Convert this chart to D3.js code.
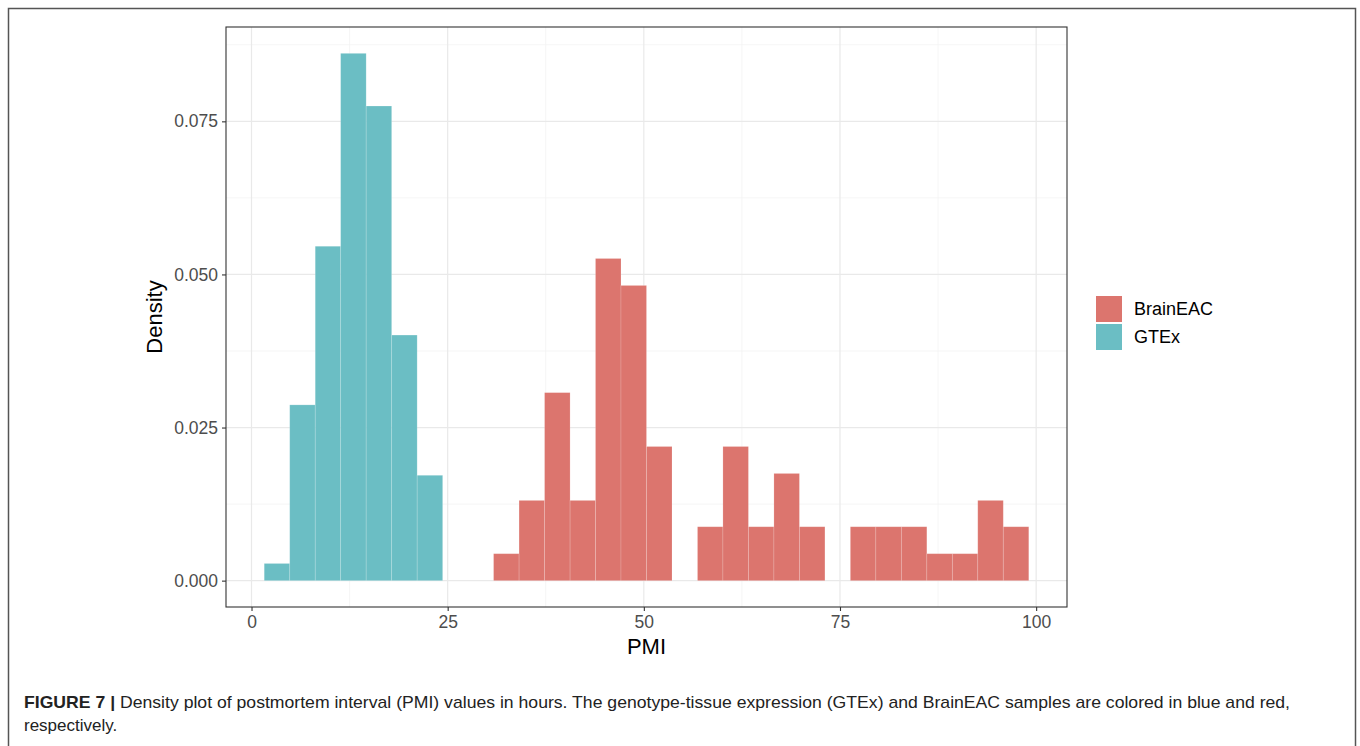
<!DOCTYPE html>
<html>
<head>
<meta charset="utf-8">
<script src="https://cdn.jsdelivr.net/npm/d3@7"></script>
<style>
  body { margin: 0; background: #fff; }
  svg { display: block; font-family: "Liberation Sans", Arial, sans-serif; }
</style>
</head>
<body>
<div class="chart"></div>
<script>
var svgWidth = 1360;
var svgHeight = 746;

// panel box (ggplot style)
var panel = { left: 226, top: 27, right: 1067, bottom: 607 };

// histogram bin edges (PMI, hours) - 30 bins shared by both groups
var binEdges = [1.62, 4.87, 8.12, 11.36, 14.61, 17.86, 21.11, 24.36, 27.60, 30.85,
  34.10, 37.35, 40.60, 43.84, 47.09, 50.34, 53.59, 56.84, 60.08, 63.33,
  66.58, 69.83, 73.08, 76.32, 79.57, 82.82, 86.07, 89.32, 92.56, 95.81, 99.06];

// density per bin
var gtexDensity = [0.0028, 0.0287, 0.0546, 0.0861, 0.0775, 0.0401, 0.0172, 0, 0, 0,
  0, 0, 0, 0, 0, 0, 0, 0, 0, 0,
  0, 0, 0, 0, 0, 0, 0, 0, 0, 0];
var brainDensity = [0, 0, 0, 0, 0, 0, 0, 0, 0, 0.0044,
  0.0131, 0.0307, 0.0131, 0.0526, 0.0482, 0.0219, 0, 0.0088, 0.0219, 0.0088,
  0.0175, 0.0088, 0, 0.0088, 0.0088, 0.0088, 0.0044, 0.0044, 0.0131, 0.0088];

var groups = ["BrainEAC", "GTEx"];
var groupColors = ["#dc756e", "#6bbec4"];

var xTicks = [0, 25, 50, 75, 100];
var xMinorTicks = [12.5, 37.5, 62.5, 87.5];
var yTicks = [0, 0.025, 0.05, 0.075];
var yMinorTicks = [0.0125, 0.0375, 0.0625, 0.0875];

var captionBold = "FIGURE 7 |";
var captionLine1 = " Density plot of postmortem interval (PMI) values in hours. The genotype-tissue expression (GTEx) and BrainEAC samples are colored in blue and red,";
var captionLine2 = "respectively.";

var svg = d3
  .select(".chart")
  .append("svg")
  .attr("width", svgWidth)
  .attr("height", svgHeight);

// outer figure frame (bottom edge runs off the page)
svg.append("rect")
  .attr("x", 8.5)
  .attr("y", 8.5)
  .attr("width", 1347)
  .attr("height", 800)
  .attr("fill", "none")
  .attr("stroke", "#555")
  .attr("stroke-width", 1.5);

// build bar records
var bars = [];
brainDensity.forEach(function(d, i) {
  if (d > 0) bars.push({ group: "BrainEAC", x0: binEdges[i], x1: binEdges[i + 1], y: d });
});
gtexDensity.forEach(function(d, i) {
  if (d > 0) bars.push({ group: "GTEx", x0: binEdges[i], x1: binEdges[i + 1], y: d });
});

// scales with ggplot's 5% expansion
var xMin = binEdges[0], xMax = binEdges[binEdges.length - 1];
var xPad = (xMax - xMin) * 0.05;
var xScale = d3.scaleLinear()
  .domain([xMin - xPad, xMax + xPad])
  .range([panel.left, panel.right]);

var yMax = d3.max(bars, d => d.y);
var yScale = d3.scaleLinear()
  .domain([-yMax * 0.05, yMax * 1.05])
  .range([panel.bottom, panel.top]);

var color = d3.scaleOrdinal().domain(groups).range(groupColors);

// grid lines
var grid = svg.append("g");
grid.selectAll(".xminor").data(xMinorTicks).enter().append("line")
  .attr("x1", d => xScale(d)).attr("x2", d => xScale(d))
  .attr("y1", panel.top).attr("y2", panel.bottom)
  .attr("stroke", "#f2f2f2").attr("stroke-width", 0.8);
grid.selectAll(".yminor").data(yMinorTicks).enter().append("line")
  .attr("y1", d => yScale(d)).attr("y2", d => yScale(d))
  .attr("x1", panel.left).attr("x2", panel.right)
  .attr("stroke", "#f2f2f2").attr("stroke-width", 0.8);
grid.selectAll(".xmajor").data(xTicks).enter().append("line")
  .attr("x1", d => xScale(d)).attr("x2", d => xScale(d))
  .attr("y1", panel.top).attr("y2", panel.bottom)
  .attr("stroke", "#e9e9e9").attr("stroke-width", 1.2);
grid.selectAll(".ymajor").data(yTicks).enter().append("line")
  .attr("y1", d => yScale(d)).attr("y2", d => yScale(d))
  .attr("x1", panel.left).attr("x2", panel.right)
  .attr("stroke", "#e9e9e9").attr("stroke-width", 1.2);

// histogram bars
svg.append("g")
  .selectAll("rect")
  .data(bars)
  .enter()
  .append("rect")
  .attr("x", d => xScale(d.x0))
  .attr("y", d => yScale(d.y))
  .attr("width", d => xScale(d.x1) - xScale(d.x0))
  .attr("height", d => yScale(0) - yScale(d.y))
  .attr("fill", d => color(d.group))
  .attr("stroke", "#ffffff")
  .attr("stroke-opacity", 0.2)
  .attr("stroke-width", 0.8);

// panel border
svg.append("rect")
  .attr("x", panel.left)
  .attr("y", panel.top)
  .attr("width", panel.right - panel.left)
  .attr("height", panel.bottom - panel.top)
  .attr("fill", "none")
  .attr("stroke", "#333")
  .attr("stroke-width", 1.1);

// axes
var bottomAxis = d3.axisBottom(xScale).tickValues(xTicks).tickSize(4).tickPadding(5);
var leftAxis = d3.axisLeft(yScale).tickValues(yTicks).tickSize(4).tickPadding(4)
  .tickFormat(d3.format(".3f"));

var xAxis = svg.append("g")
  .attr("transform", `translate(0, ${panel.bottom})`)
  .call(bottomAxis);
var yAxis = svg.append("g")
  .attr("transform", `translate(${panel.left}, 0)`)
  .call(leftAxis);

[xAxis, yAxis].forEach(function(ax) {
  ax.select(".domain").remove();
  ax.selectAll(".tick line").attr("stroke", "#333").attr("stroke-width", 1.1);
  ax.selectAll(".tick text")
    .attr("fill", "#4d4d4d")
    .style("font-size", "17.5px")
    .style("font-family", "Liberation Sans, Arial, sans-serif");
});

// axis titles
svg.append("text")
  .attr("x", (panel.left + panel.right) / 2)
  .attr("y", 654)
  .attr("text-anchor", "middle")
  .style("font-size", "22px")
  .attr("fill", "#000")
  .text("PMI");

svg.append("text")
  .attr("transform", `translate(162, ${(panel.top + panel.bottom) / 2}) rotate(-90)`)
  .attr("text-anchor", "middle")
  .style("font-size", "22px")
  .attr("fill", "#000")
  .text("Density");

// legend
var legend = svg.append("g")
  .attr("transform", "translate(1096, 296)");
var legendItems = legend.selectAll("g")
  .data(groups)
  .enter()
  .append("g")
  .attr("transform", (d, i) => `translate(0, ${i * 28})`);
legendItems.append("rect")
  .attr("width", 26)
  .attr("height", 26)
  .attr("fill", d => color(d));
legendItems.append("text")
  .attr("x", 38)
  .attr("y", 13)
  .attr("dy", "0.35em")
  .style("font-size", "18px")
  .attr("fill", "#000")
  .text(d => d);

// caption
var caption = svg.append("text")
  .attr("x", 24)
  .attr("y", 708)
  .attr("textLength", 1266)
  .attr("lengthAdjust", "spacingAndGlyphs")
  .style("font-size", "17px")
  .attr("fill", "#222");
caption.append("tspan")
  .style("font-weight", "bold")
  .text(captionBold);
caption.append("tspan")
  .text(captionLine1);

svg.append("text")
  .attr("x", 24)
  .attr("y", 731)
  .style("font-size", "17px")
  .attr("fill", "#222")
  .text(captionLine2);
</script>
</body>
</html>
